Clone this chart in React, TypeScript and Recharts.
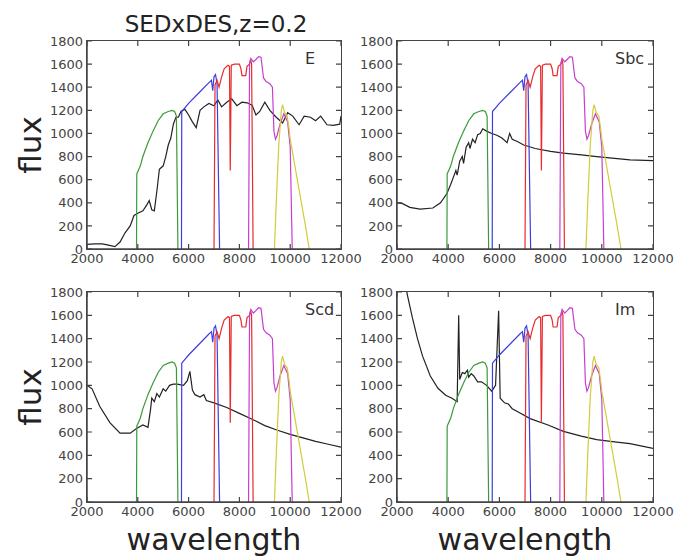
import { Line, LineChart, XAxis, YAxis } from 'recharts'

type Pt = [number, number]

const xTicks = [2000, 4000, 6000, 8000, 10000, 12000]
const yTicks = [0, 200, 400, 600, 800, 1000, 1200, 1400, 1600, 1800]

// DES filter curves (wavelength, scaled throughput)
const gBand: Pt[] = [
  [3950, 0], [3960, 650], [4100, 720], [4200, 800], [4400, 920], [4600, 1020],
  [4800, 1110], [5000, 1170], [5200, 1190], [5350, 1200], [5450, 1190], [5520, 1150], [5580, 0],
]
const rBand: Pt[] = [
  [5720, 0], [5730, 1190], [6000, 1260], [6400, 1350], [6800, 1440], [6900, 1460],
  [6950, 1370], [7000, 1490], [7060, 1510], [7120, 1430], [7220, 0],
]
const iBand: Pt[] = [
  [7000, 0], [7040, 1420], [7120, 1460], [7200, 1400], [7300, 1490], [7400, 1560],
  [7550, 1590], [7610, 1580], [7640, 680], [7680, 1590], [7800, 1600], [8000, 1600],
  [8060, 1560], [8100, 1500], [8250, 1500], [8300, 1580], [8400, 1600], [8440, 1640],
  [8480, 1600], [8540, 0],
]
const zBand: Pt[] = [
  [8360, 0], [8400, 1600], [8450, 1650], [8550, 1620], [8650, 1640], [8750, 1665],
  [8850, 1660], [8950, 1480], [9050, 1450], [9200, 1430], [9300, 1400], [9360, 1020],
  [9420, 950], [9480, 980], [9600, 1080], [9750, 1170], [9900, 1100], [10000, 880], [10080, 0],
]
const yBand: Pt[] = [
  [9380, 0], [9450, 400], [9550, 900], [9650, 1200], [9700, 1250], [9780, 1180],
  [9880, 1150], [9950, 1050], [10000, 950], [10200, 700], [10400, 450], [10600, 200], [10750, 0],
]

// galaxy templates at z=0.2
const sedE: Pt[] = [
  [2000, 40], [2300, 45], [2600, 45], [2800, 35], [3100, 20], [3300, 60], [3500, 140],
  [3700, 200], [3850, 290], [4000, 310], [4200, 330], [4350, 380], [4450, 420], [4550, 340],
  [4650, 330], [4750, 500], [4850, 690], [5000, 720], [5100, 800], [5200, 900], [5300, 960],
  [5400, 1080], [5500, 1140], [5600, 1140], [5700, 1190], [5850, 1210], [6000, 1160],
  [6150, 1100], [6300, 1050], [6450, 1200], [6600, 1230], [6800, 1260], [7000, 1240],
  [7150, 1290], [7300, 1230], [7500, 1270], [7700, 1300], [7900, 1240], [8100, 1270],
  [8300, 1265], [8500, 1245], [8650, 1160], [8800, 1190], [9000, 1270], [9200, 1200],
  [9450, 1140], [9700, 1090], [9900, 1180], [10100, 1150], [10350, 1075], [10550, 1150],
  [10800, 1140], [11000, 1110], [11200, 1150], [11450, 1075], [11700, 1070], [11950, 1080],
  [12000, 1150],
]
const sedSbc: Pt[] = [
  [2000, 400], [2200, 395], [2500, 360], [2900, 345], [3400, 355], [3700, 400], [3950, 480],
  [4100, 560], [4200, 620], [4300, 680], [4350, 640], [4450, 760], [4550, 800], [4600, 740],
  [4700, 880], [4800, 920], [4850, 870], [4950, 950], [5050, 920], [5150, 990], [5250, 1000],
  [5350, 1040], [5500, 1020], [5700, 1000], [5900, 985], [6100, 960], [6300, 920], [6400, 1000],
  [6500, 950], [6700, 930], [6950, 900], [7400, 870], [8000, 845], [8500, 830], [9200, 815],
  [9800, 800], [10500, 785], [11100, 772], [12000, 765],
]
const sedScd: Pt[] = [
  [2000, 1000], [2200, 970], [2500, 820], [2900, 680], [3300, 590], [3700, 590], [3950, 630],
  [4200, 660], [4400, 640], [4500, 790], [4550, 890], [4650, 860], [4750, 930], [4850, 900],
  [5000, 970], [5100, 950], [5250, 1000], [5400, 1010], [5550, 1010], [5800, 1000],
  [5950, 1040], [6050, 1120], [6150, 960], [6250, 920], [6450, 900], [6600, 920], [6700, 870],
  [7000, 850], [7500, 810], [8000, 760], [8500, 710], [9000, 655], [9500, 615], [10000, 580],
  [10500, 550], [11000, 520], [11500, 495], [12000, 470],
]
const sedIm: Pt[] = [
  [2000, 2400], [2200, 2050], [2400, 1780], [2600, 1580], [2800, 1400], [3000, 1250],
  [3300, 1080], [3600, 975], [3900, 915], [4150, 890], [4350, 860], [4410, 1600], [4450, 1050],
  [4550, 1110], [4650, 1100], [4750, 1130], [4800, 1070], [4900, 1100], [5000, 1080],
  [5150, 1030], [5300, 1030], [5500, 1000], [5700, 950], [5850, 1000], [5970, 1640],
  [6030, 890], [6200, 850], [6350, 840], [6500, 800], [6700, 775], [7200, 715], [7900, 660],
  [8500, 605], [9200, 565], [9800, 535], [10500, 515], [11100, 500], [12000, 460],
]

const panelNames = ['E', 'Sbc', 'Scd', 'Im']
const sedCurves = [sedE, sedSbc, sedScd, sedIm]
const bands = [gBand, rBand, iBand, zBand, yBand]

const bandColors = ['#3a9a3a', '#3d3de0', '#e82c2c', '#c63fd2', '#d2cc3a']
const font = '"DejaVu Sans", sans-serif'
const frame = '#444444'
const M = { top: 10, right: 24, left: 0, bottom: 0 }
const YW = 50
const XH = 25

// plot-area boxes: left, top, width, height
const boxes = [
  [87, 41, 254, 208],
  [397, 41, 256, 208],
  [87, 292, 254, 210],
  [397, 292, 256, 210],
]

const toRows = (pts: Pt[]) => pts.map(([w, f]) => ({ w, f }))

// x tick: label below, inward marks on bottom and top edges
const makeXTick = (h: number) => (p: any) => {
  const bottom = M.top + h
  return (
    <g>
      <path d={`M${p.x},${bottom}V${bottom - 5}M${p.x},${M.top}V${M.top + 5}`}
        stroke={frame} strokeWidth={1.2} fill="none" />
      <text x={p.x} y={bottom + 4} dy="0.75em" textAnchor="middle" fontSize={13}
        fontFamily={font} fill="#444">{p.payload.value}</text>
    </g>
  )
}

// y tick: label left, inward marks on left and right edges
const makeYTick = (w: number) => (p: any) => {
  const right = YW + w
  return (
    <g>
      <path d={`M${YW},${p.y}H${YW + 5}M${right},${p.y}H${right - 5}`}
        stroke={frame} strokeWidth={1.2} fill="none" />
      <text x={YW - 4} y={p.y} dy="0.36em" textAnchor="end" fontSize={13}
        fontFamily={font} fill="#444">{p.payload.value}</text>
    </g>
  )
}

function Panel({ sed, name, box }: { sed: Pt[]; name: string; box: number[] }) {
  const [left, top, w, h] = box
  return (
    <div style={{ position: 'absolute', left: left - YW, top: top - M.top }}>
      <LineChart width={YW + w + M.right} height={M.top + h + XH} margin={M}>
        <XAxis dataKey="w" type="number" domain={[2000, 12000]} ticks={xTicks} interval={0}
          allowDataOverflow height={XH} stroke={frame} strokeWidth={1.5} tickLine={false}
          tick={makeXTick(h)} />
        <YAxis type="number" domain={[0, 1800]} ticks={yTicks} interval={0} allowDataOverflow
          width={YW} stroke={frame} strokeWidth={1.5} tickLine={false} tick={makeYTick(w)} />
        <Line data={toRows(sed)} dataKey="f" type="linear" stroke="#222" strokeWidth={1.2}
          dot={false} isAnimationActive={false} />
        {bands.map((b, i) => (
          <Line key={i} data={toRows(b)} dataKey="f" type="linear" stroke={bandColors[i]}
            strokeWidth={1.2} dot={false} isAnimationActive={false} />
        ))}
      </LineChart>
      <div style={{ position: 'absolute', left: YW - 1, top: M.top - 1, width: w + 2, height: h + 2,
        boxSizing: 'border-box', border: '1.5px solid #444444' }} />
      <div style={{ position: 'absolute', left: YW + 218, top: M.top + 10, fontFamily: font,
        fontSize: 16, lineHeight: '16px', color: '#333', whiteSpace: 'nowrap' }}>{name}</div>
    </div>
  )
}

export default function App() {
  return (
    <div style={{ position: 'absolute', left: 0, top: 0, width: 676, height: 559,
      background: '#fff', fontFamily: font }}>
      <div style={{ position: 'absolute', left: 0, width: 432, top: 13, textAlign: 'center',
        fontSize: 23, lineHeight: '23px', color: '#222' }}>SEDxDES,z=0.2</div>
      {[145, 397].map((cy) => (
        <div key={cy} style={{ position: 'absolute', left: 30 - 50, top: cy - 17, width: 100,
          height: 34, lineHeight: '34px', fontSize: 31, textAlign: 'center', color: '#222',
          transform: 'rotate(-90deg)' }}>flux</div>
      ))}
      {[214, 525].map((cx) => (
        <div key={cx} style={{ position: 'absolute', left: cx - 100, width: 200, top: 525,
          fontSize: 30, lineHeight: '30px', textAlign: 'center', color: '#222' }}>wavelength</div>
      ))}
      {boxes.map((b, i) => (
        <Panel key={i} sed={sedCurves[i]} name={panelNames[i]} box={b} />
      ))}
    </div>
  )
}
